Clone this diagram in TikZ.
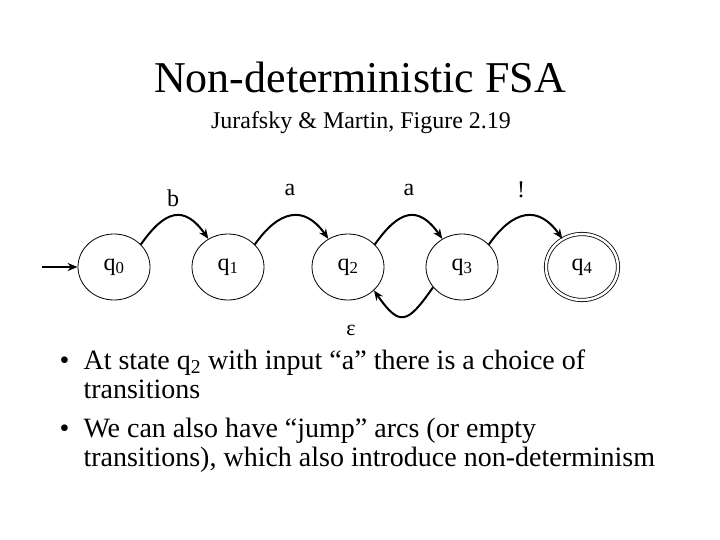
\documentclass[tikz,border=0pt]{standalone}
\usepackage{fontspec}
\setmainfont{Liberation Serif}
\usetikzlibrary{arrows.meta,shapes.geometric}

\tikzset{
  state/.style={ellipse,draw,line width=0.8pt,minimum width=72pt,minimum height=66pt,
    inner sep=0pt,font=\fontsize{24}{24}\selectfont},
  accepting/.style={double,double distance=2.5pt},
  trans/.style={-{Stealth[length=10pt,width=8pt]},line width=2pt},
  lbl/.style={font=\fontsize{24}{24}\selectfont},
  bullet/.style={anchor=base west,align=left,font=\fontsize{28}{29}\selectfont},
}

\begin{document}
\begin{tikzpicture}[x=1pt,y=-1pt]
\useasboundingbox (0,0) rectangle (720,540);

% title
\node (title) at (360,77) {\fontsize{44}{44}\selectfont Non-deterministic FSA};
\node (subtitle) at (361,123) {\fontsize{24}{24}\selectfont Jurafsky \& Martin, Figure 2.19};

% states
\node[state] (q0) at (114,267) {q\textsubscript{0}};
\node[state] (q1) at (228,267) {q\textsubscript{1}};
\node[state] (q2) at (348,267) {q\textsubscript{2}};
\node[state] (q3) at (462,267) {q\textsubscript{3}};
\node[state,accepting] (q4) at (582,267) {q\textsubscript{4}};
\coordinate (start) at (42,267);

% transitions (y axis points down, so control angles are mirrored)
\draw[trans] (start) -- (q0);
\draw[trans] (q0.40) .. controls +(-55:42) and +(-125:42) .. (q1.125);
\draw[trans] (q1.40) .. controls +(-55:42) and +(-125:42) .. (q2.125);
\draw[trans] (q2.40) .. controls +(-55:42) and +(-125:42) .. (q3.125);
\draw[trans] (q3.40) .. controls +(-55:42) and +(-125:42) .. (q4.125);
\draw[trans] (q3.215) .. controls +(125:45) and +(55:45) .. (q2.-42);

% arc labels
\node[lbl] (lb) at (173,198) {b};
\node[lbl] (la1) at (290,190) {a};
\node[lbl] (la2) at (409,190) {a};
\node[lbl] (lex) at (521,190) {!};
\node[lbl] (leps) at (351,330) {\fontsize{22}{22}\selectfont ε};

% bullets
\node[bullet] (dot1) at (56,369) {•};
\node[bullet] (txt1) at (80,398) {At state q\textsubscript{2} with input “a” there is a choice of\\transitions};
\node[bullet] (dot2) at (56,437) {•};
\node[bullet] (txt2) at (80,466) {We can also have “jump” arcs (or empty\\transitions), which also introduce non-determinism};

\end{tikzpicture}
\end{document}
